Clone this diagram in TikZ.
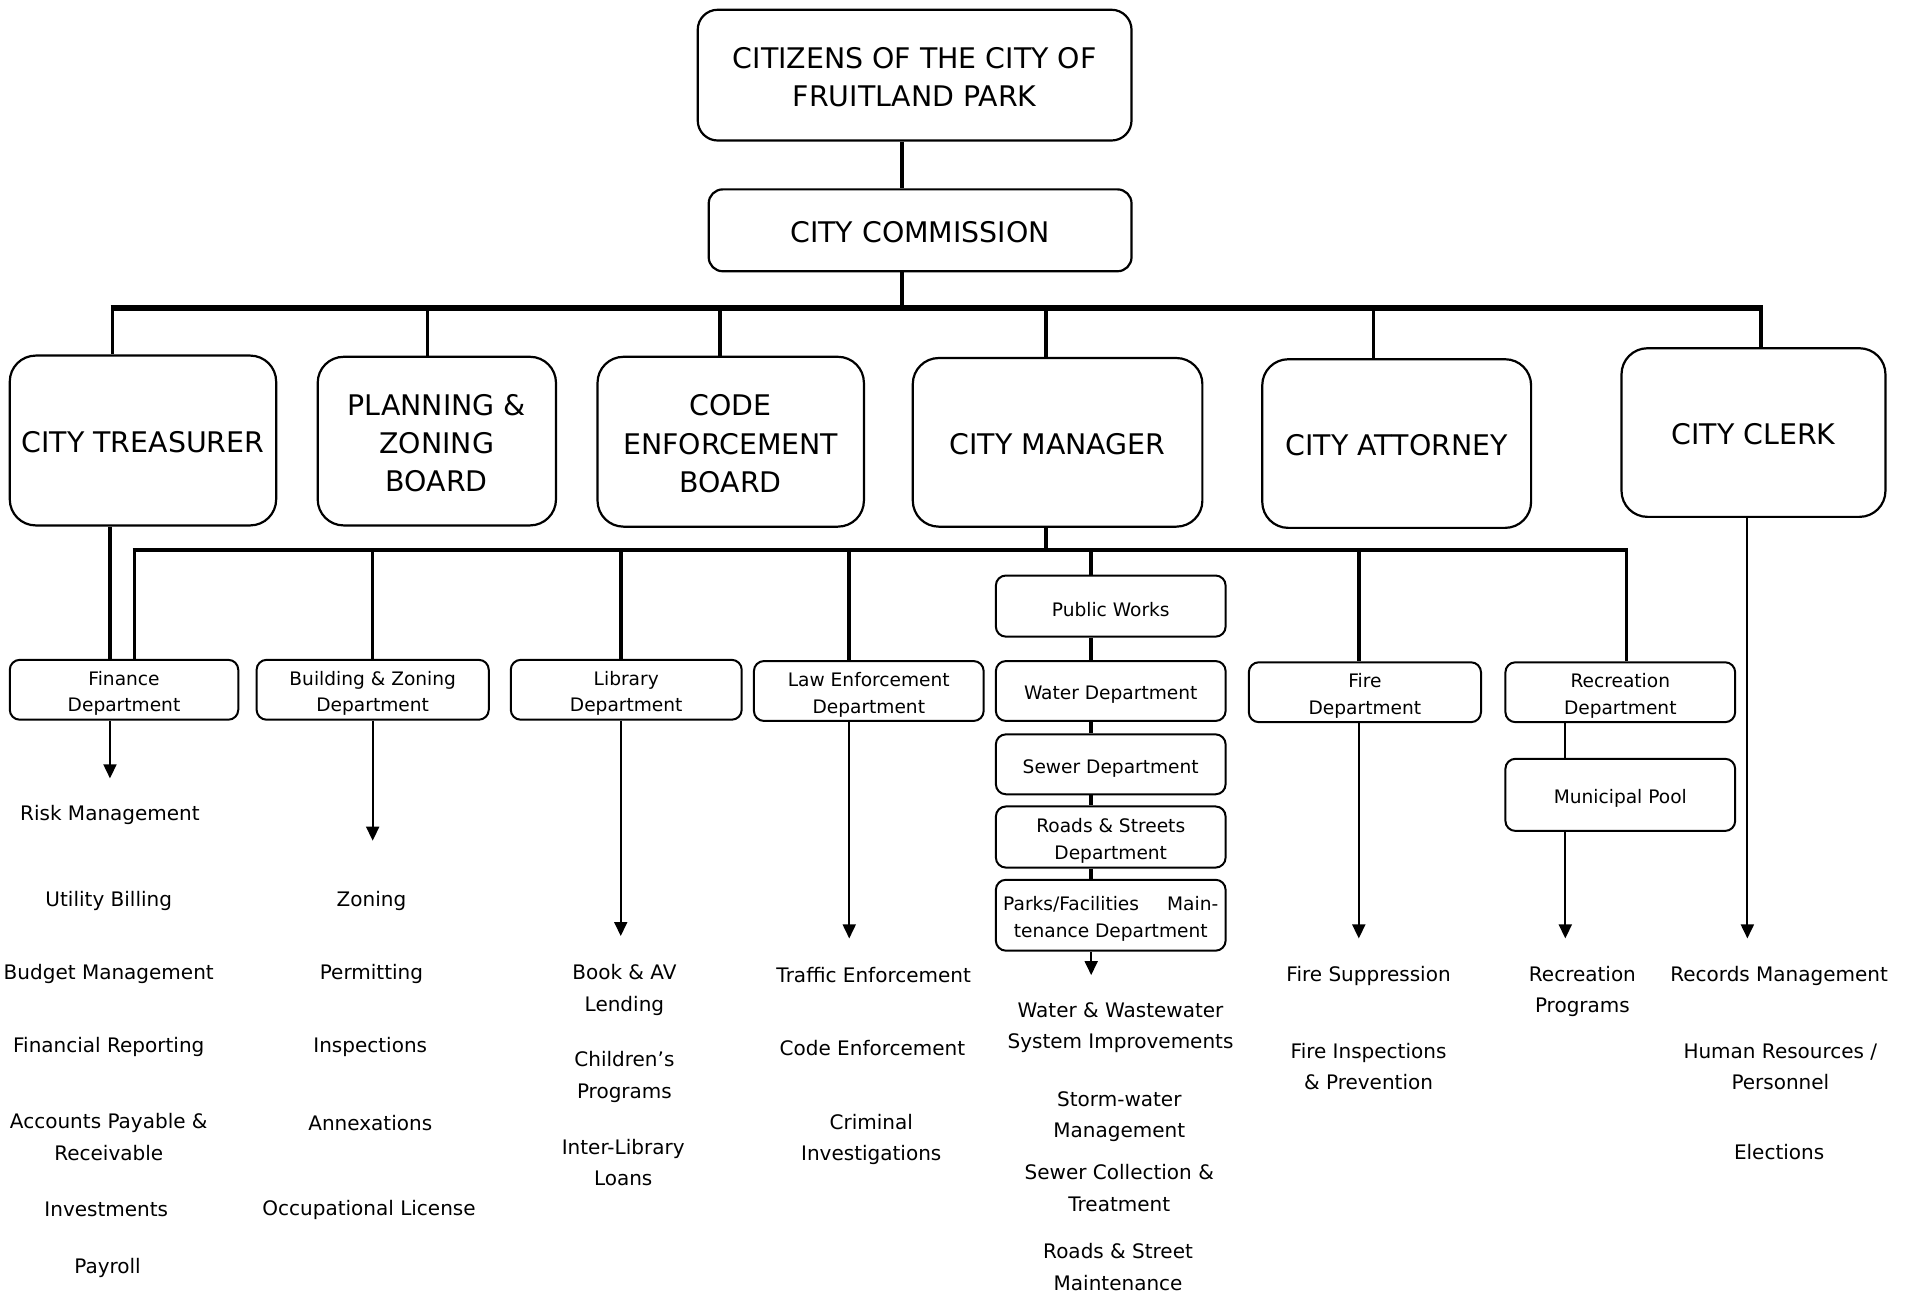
\documentclass[tikz,border=0pt]{standalone}
\usepackage{fontspec}
\setmainfont{DejaVu Sans}
\usetikzlibrary{arrows.meta}
\newdimen\px \px=0.61095pt
\newcommand\fntbig{\fontsize{14.2pt}{19.2pt}\selectfont}
\newcommand\fntsmall{\fontsize{9.3pt}{13.4pt}\selectfont}
\newcommand\fntlist{\fontsize{10pt}{15.8pt}\selectfont}
\newcommand\liftb{\rule{0pt}{12.6pt}}
\newcommand\lifts{\rule{0pt}{10.7pt}}
\begin{document}
\begin{tikzpicture}[x=0.61095pt,y=-0.61095pt,
  corners/.style n args={4}{minimum width={(#3-#1)*0.61095pt}, minimum height={(#4-#2)*0.61095pt}, at={({(#1+#3)/2},{(#2+#4)/2})}},
  bigbox/.style={draw, line width=1.1pt, rounded corners=13pt, inner sep=0pt, align=center, font=\fntbig},
  topbox/.style={bigbox, rounded corners=10pt},
  dept/.style={draw, line width=1pt, rounded corners=5pt, inner sep=0pt, align=center, font=\fntsmall},
  lbl/.style={inner sep=0pt, align=center, font=\fntlist, yshift=-1.2pt},
  bus/.style={line width=2.6pt},
  drop/.style={line width=1.8pt},
  thin/.style={line width=0.9pt},
  arr/.style={thin, -{Triangle[length=7pt,width=6.5pt]}}
]
\useasboundingbox (0,0) rectangle (1568,1060);
\fill[white] (0,0) rectangle (1568,1060);

% top
\node[topbox, corners={571}{8}{926}{115}] (cit) {\liftb CITIZENS OF THE CITY OF\\FRUITLAND PARK};
\node[topbox, rounded corners=7pt, corners={580}{155}{926}{222}] (com) {\liftb CITY COMMISSION};

% tier 2
\node[bigbox, corners={8}{291}{226}{430}] (tre) {\liftb CITY TREASURER};
\node[bigbox, corners={260}{292}{455}{430}] (plan) {\liftb PLANNING \&\\ZONING\\BOARD};
\node[bigbox, corners={489}{292}{707}{431}] (code) {\liftb CODE\\ENFORCEMENT\\BOARD};
\node[bigbox, corners={747}{293}{984}{431}] (mgr) {\liftb CITY MANAGER};
\node[bigbox, corners={1033}{294}{1253}{432}] (att) {\liftb CITY ATTORNEY};
\node[bigbox, corners={1327}{285}{1543}{423}] (clk) {\liftb CITY CLERK};

% tier 3
\node[dept, corners={8}{540}{195}{589}] (fin) {\lifts Finance\\Department};
\node[dept, corners={210}{540}{400}{589}] (bld) {\lifts Building \& Zoning\\Department};
\node[dept, corners={418}{540}{607}{589}] (lib) {\lifts Library\\Department};
\node[dept, corners={617}{541}{805}{590}] (law) {\lifts Law Enforcement\\Department};
\node[dept, corners={815}{471}{1003}{521}] (pw) {\lifts Public Works};
\node[dept, corners={815}{541}{1003}{590}] (wat) {\lifts Water Department};
\node[dept, corners={815}{601}{1003}{650}] (sew) {\lifts Sewer Department};
\node[dept, corners={815}{660}{1003}{710}] (rds) {\lifts Roads \& Streets\\Department};
\node[dept, corners={815}{720}{1003}{778}] (prk) {\lifts\makebox[176\px]{Parks/Facilities\hfill Main-}\\tenance Department};
\node[dept, corners={1022}{542}{1212}{591}] (fire) {\lifts Fire\\Department};
\node[dept, corners={1232}{542}{1420}{591}] (rec) {\lifts Recreation\\Department};
\node[dept, corners={1232}{621}{1420}{680}] (pool) {\lifts Municipal Pool};

% top connectors
\coordinate (ax) at (738,252);
\draw[drop] (ax |- cit.south) -- (ax |- com.north);
\draw[drop] (ax |- com.south) -- (ax);
\coordinate (b1) at (92,252);
\coordinate (b2) at (350,252);
\coordinate (b3) at (589,252);
\coordinate (b4) at (856,252);
\coordinate (b5) at (1124,252);
\coordinate (b6) at (1441,252);
\draw[bus] ([xshift=-0.9pt]b1) -- ([xshift=0.9pt]b6);
\draw[drop] (b1) -- (b1 |- tre.north);
\draw[drop] (b2) -- (b2 |- plan.north);
\draw[drop] (b3) -- (b3 |- code.north);
\draw[drop] (b4) -- (b4 |- mgr.north);
\draw[drop] (b5) -- (b5 |- att.north);
\draw[drop] (b6) -- (b6 |- clk.north);

% manager bus
\coordinate (m0) at (856,450);
\draw[drop] (m0 |- mgr.south) -- (m0);
\coordinate (m1) at (110,450);
\coordinate (m2) at (305,450);
\coordinate (m3) at (508,450);
\coordinate (m4) at (695,450);
\coordinate (m5) at (893,450);
\coordinate (m6) at (1112,450);
\coordinate (m7) at (1331,450);
\draw[bus, line width=2.3pt] ([xshift=-0.9pt]m1) -- ([xshift=0.9pt]m7);
\draw[drop] (m1) -- (m1 |- fin.north);
\draw[drop] (m2) -- (m2 |- bld.north);
\draw[drop] (m3) -- (m3 |- lib.north);
\draw[drop] (m4) -- (m4 |- law.north);
\draw[drop] (m5) -- (m5 |- pw.north);
\draw[drop] (m6) -- (m6 |- fire.north);
\draw[drop] (m7) -- (m7 |- rec.north);

% public works chain
\draw[drop, line width=2.2pt] (m5 |- pw.south) -- (m5 |- wat.north);
\draw[drop, line width=2.2pt] (m5 |- wat.south) -- (m5 |- sew.north);
\draw[drop, line width=2.2pt] (m5 |- sew.south) -- (m5 |- rds.north);
\draw[drop, line width=2.2pt] (m5 |- rds.south) -- (m5 |- prk.north);

% treasurer to finance
\coordinate (a1) at (90,637);
\draw[drop] (a1 |- tre.south) -- (a1 |- fin.north);

% arrows
\coordinate (a2) at (305,688);
\coordinate (a3) at (508,766);
\coordinate (a4) at (695,768);
\coordinate (a5) at (893,798);
\coordinate (a6) at (1112,768);
\coordinate (a7) at (1281,768);
\coordinate (a8) at (1430,768);
\draw[arr] (a1 |- fin.south) -- (a1);
\draw[arr] (a2 |- bld.south) -- (a2);
\draw[arr] (a3 |- lib.south) -- (a3);
\draw[arr] (a4 |- law.south) -- (a4);
\draw[arr] (a5 |- prk.south) -- (a5);
\draw[arr] (a6 |- fire.south) -- (a6);
\draw[thin] (a7 |- rec.south) -- (a7 |- pool.north);
\draw[arr] (a7 |- pool.south) -- (a7);
\draw[arr] (a8 |- clk.south) -- (a8);

% finance list
\node[lbl] (f1) at (90,665) {Risk Management};
\node[lbl] (f2) at (89,735) {Utility Billing};
\node[lbl] (f3) at (89,795) {Budget Management};
\node[lbl] (f4) at (89,855) {Financial Reporting};
\node[lbl] (f5) at (89,928.5) {Accounts Payable \&\\Receivable};
\node[lbl] (f6) at (87,988) {Investments};
\node[lbl] (f7) at (88,1036) {Payroll};

% building list
\node[lbl] (z1) at (304,735) {Zoning};
\node[lbl] (z2) at (304,795) {Permitting};
\node[lbl] (z3) at (303,855) {Inspections};
\node[lbl] (z4) at (303,917) {Annexations};
\node[lbl] (z5) at (302,988) {Occupational License};

% library list
\node[lbl] (l1) at (511,808) {Book \& AV\\Lending};
\node[lbl] (l2) at (511,879.5) {Children’s\\Programs};
\node[lbl] (l3) at (510,949.5) {Inter-Library\\Loans};

% law list
\node[lbl] (e1) at (715,796) {Traffic Enforcement};
\node[lbl] (e2) at (714,856) {Code Enforcement};
\node[lbl] (e3) at (713,930.5) {Criminal\\Investigations};

% public works list
\node[lbl] (p1) at (917,839) {Water \& Wastewater\\System Improvements};
\node[lbl] (p2) at (916,912) {Storm-water\\Management};
\node[lbl] (p3) at (916,970.5) {Sewer Collection \&\\Treatment};
\node[lbl] (p4) at (915,1035) {Roads \& Street\\Maintenance};

% fire list
\node[lbl] (r1) at (1120,797) {Fire Suppression};
\node[lbl] (r2) at (1120,871) {Fire Inspections\\\& Prevention};

% recreation list
\node[lbl] (c1) at (1295,809.5) {Recreation\\Programs};

% clerk list
\node[lbl] (k1) at (1456,797) {Records Management};
\node[lbl] (k2) at (1457,871) {Human Resources /\\Personnel};
\node[lbl] (k3) at (1456,941) {Elections};
\end{tikzpicture}
\end{document}
